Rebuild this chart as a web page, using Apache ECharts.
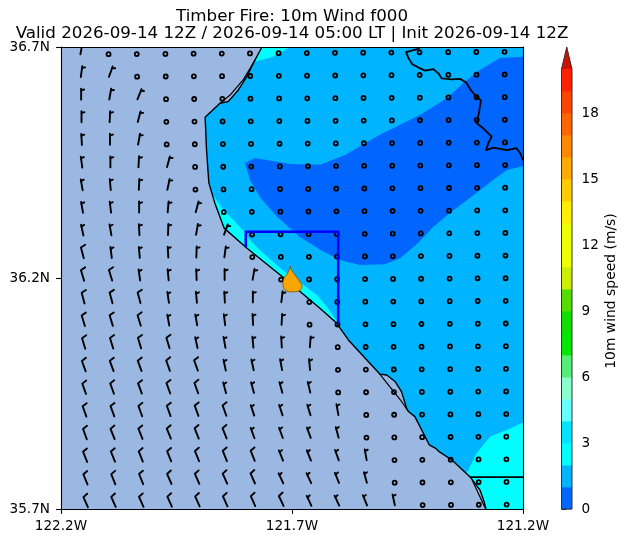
<!DOCTYPE html>
<html><head><meta charset="utf-8">
<style>html,body{margin:0;padding:0;background:#fff}#c{width:628px;height:543px}</style>
<script src="https://cdn.jsdelivr.net/npm/echarts@6/dist/echarts.min.js"></script>
</head><body><div id="c"></div>
<script>
const titleText = "Timber Fire: 10m Wind f000\nValid 2026-09-14 12Z / 2026-09-14 05:00 LT | Init 2026-09-14 12Z";
const lonTicks = [-122.2, -121.7, -121.2];
const latTicks = [35.7, 36.2, 36.7];
const cbarTicks = [0, 3, 6, 9, 12, 15, 18];
const cbarLabel = "10m wind speed (m/s)";
const levelColors = ['#0066ff','#00b4ff','#00ffff','#00e4ff','#66ffff','#88ffcc','#55ee77','#00e800','#10dd00','#55dd00','#ccee00','#eeff00','#eeff00','#ffee00','#ffcc00','#ffaa00','#ff8800','#ff6600','#ff4400','#ff2200'];
const overColor = '#cc1100';
const domain = [[-122.2,35.7],[-121.2,35.7],[-121.2,36.7],[-122.2,36.7]];
const calmLow = [[-121.802,36.449],[-121.780,36.460],[-121.704,36.447],[-121.639,36.445],[-121.585,36.466],[-121.548,36.488],[-121.510,36.510],[-121.423,36.553],[-121.365,36.589],[-121.326,36.625],[-121.293,36.650],[-121.250,36.676],[-121.2,36.679],[-121.2,36.442],[-121.235,36.434],[-121.265,36.412],[-121.315,36.373],[-121.358,36.341],[-121.397,36.308],[-121.427,36.276],[-121.466,36.243],[-121.499,36.230],[-121.553,36.228],[-121.596,36.239],[-121.639,36.261],[-121.683,36.289],[-121.733,36.333],[-121.769,36.375],[-121.791,36.412]];
const cyanTop = [[-121.765,36.7],[-121.704,36.7],[-121.741,36.679],[-121.780,36.668],[-121.813,36.650]];
const cyanCoast = [[-121.871,36.380],[-121.852,36.352],[-121.823,36.321],[-121.800,36.297],[-121.791,36.282],[-121.763,36.254],[-121.720,36.217],[-121.683,36.191],[-121.646,36.163],[-121.624,36.137],[-121.600,36.103],[-121.578,36.064],[-121.683,36.087],[-121.899,36.304]];
const cyanSouth = [[-121.322,35.778],[-121.300,35.821],[-121.271,35.857],[-121.235,35.871],[-121.2,35.887],[-121.2,35.7],[-121.33,35.7]];
const ocean = [[-121.765,36.7],[-121.780,36.672],[-121.798,36.636],[-121.816,36.607],[-121.838,36.582],[-121.856,36.578],[-121.888,36.548],[-121.885,36.477],[-121.880,36.406],[-121.867,36.362],[-121.847,36.308],[-121.798,36.265],[-121.720,36.202],[-121.639,36.134],[-121.603,36.102],[-121.578,36.066],[-121.510,35.992],[-121.495,35.990],[-121.477,35.976],[-121.463,35.954],[-121.452,35.918],[-121.448,35.911],[-121.434,35.900],[-121.403,35.839],[-121.390,35.832],[-121.380,35.823],[-121.354,35.806],[-121.315,35.770],[-121.293,35.741],[-121.284,35.715],[-121.280,35.7],[-122.2,35.7],[-122.2,36.7]];
const coastMain = ocean.slice(0, 31);
const coastBayNorth = [[-121.780,36.672],[-121.805,36.630],[-121.834,36.596],[-121.856,36.578]];
const coastBayMid = [[-121.510,35.992],[-121.466,35.937],[-121.448,35.911]];
const coastBaySouth = [[-121.310,35.763],[-121.282,35.702]];
const borderSouth = [[-121.315,35.769],[-121.2,35.769]];
const borderNorth = [[-121.423,36.697],[-121.453,36.689],[-121.448,36.676],[-121.440,36.663],[-121.427,36.656],[-121.412,36.649],[-121.394,36.652],[-121.383,36.643],[-121.376,36.632],[-121.354,36.630],[-121.336,36.631],[-121.323,36.623],[-121.313,36.607],[-121.300,36.591],[-121.291,36.585],[-121.295,36.560],[-121.300,36.535],[-121.286,36.524],[-121.268,36.506],[-121.275,36.492],[-121.280,36.477],[-121.264,36.482],[-121.235,36.477],[-121.214,36.481],[-121.206,36.470],[-121.2,36.455]];
const domainBox = [[-121.8,36.267],[-121.8,36.3],[-121.6,36.3],[-121.6,36.1]];
const fireLocation = [[-121.699,36.198]];
const gridLon = [-122.158,-122.097,-122.036,-121.974,-121.913,-121.852,-121.791,-121.729,-121.668,-121.607,-121.546,-121.485,-121.424,-121.362,-121.301,-121.240];
const gridLat = [36.684,36.635,36.586,36.537,36.488,36.439,36.390,36.341,36.292,36.243,36.194,36.145,36.096,36.047,35.998,35.949,35.900,35.851,35.802,35.753,35.704];
const rowLonShift = [0,.0008,.0016,.0024,.0032,.0041,.0049,.0057,.0065,.0073,.0081,.0089,.0097,.0105,.0114,.0122,.0130,.0138,.0146,.0154,.0162];
const colShiftScale = [1,.95,.9,.86,.81,.76,.71,.66,.62,.57,.52,.47,.42,.38,.33,.28];
const colLatShift = [0,.0004,.0007,.0011,.0015,.0018,.0022,.0026,.0029,.0033,.0037,.0040,.0044,.0048,.0052,.0055];
const barbDir = [[10],[8,20],[0,10,22],[0,3,15],[-3,0,10],[-8,0,3,15],[-10,-5,3,12],[-10,-7,0,5,15],[-12,-10,-3,2,10,20],[-15,-7,-5,-3,2,8],[-17,-17,-8,-5,-2,0,10],[-15,-15,-15,-8,-5,-3,0,7],[-17,-17,-17,-10,-10,-7,-3,3],[-17,-17,-17,-17,-12,-10,-5,-3,5],[-20,-20,-20,-20,-20,-12,-12,-10,-5],[-20,-20,-20,-20,-20,-15,-15,-15,-13],[-20,-20,-20,-20,-20,-20,-18,-18,-17,-10],[-20,-22,-22,-22,-22,-22,-20,-20,-20,-15],[-22,-22,-22,-22,-22,-22,-22,-22,-22,-20,-10],[-22,-22,-22,-24,-24,-24,-24,-25,-25,-22,-15],[-24,-24,-24,-24,-24,-24,-24,-25,-25,-25,-22,-12]];
const fullBarbCols = [0,0,0,0,0,0,0,0,0,1,2,3,3,4,5,5,6,6,7,7,8];

const FONT = 'DejaVu Sans';
const barbData = [];
gridLat.forEach((lat, r) => gridLon.forEach((lon, c) => {
  const d = barbDir[r][c];
  barbData.push([lon + rowLonShift[r] * colShiftScale[c], lat + colLatShift[c], d === undefined ? 0 : d, d === undefined ? 0 : (c < fullBarbCols[r] ? 2 : 1)]);
}));

function polySeries(pts, color, z) {
  return { type:'custom', coordinateSystem:'cartesian2d', xAxisIndex:0, yAxisIndex:0, silent:true, z, clip:true,
    data:[0], renderItem:(p, api) => ({ type:'polygon', shape:{points:pts.map(q => api.coord(q))}, style:{fill:color, stroke:null} }) };
}
function lineSeries(pts, color, width, z) {
  return { type:'line', xAxisIndex:0, yAxisIndex:0, data:pts, showSymbol:false, silent:true, z, clip:true,
    lineStyle:{color, width, join:'round'}, animation:false };
}
const BL = 11;
function barbItem(p, api) {
  const [x, y] = api.coord([api.value(0), api.value(1)]);
  const kind = api.value(3);
  if (kind === 0) return { type:'circle', shape:{cx:x, cy:y, r:2}, style:{fill:null, stroke:'#000', lineWidth:1.8} };
  const t = api.value(2) * Math.PI / 180, f = t + 72 * Math.PI / 180;
  const tip = [x + Math.sin(t) * BL, y - Math.cos(t) * BL];
  const style = {fill:null, stroke:'#000', lineWidth:1.9, lineCap:'round', lineJoin:'round'};
  if (kind === 2) {
    return { type:'polyline', shape:{points:[[x, y], tip, [tip[0] + Math.sin(f) * BL * .46, tip[1] - Math.cos(f) * BL * .46]]}, style };
  }
  const q = [x + Math.sin(t) * BL * .84, y - Math.cos(t) * BL * .84];
  return { type:'group', children:[
    { type:'polyline', shape:{points:[[x, y], tip]}, style },
    { type:'polyline', shape:{points:[q, [q[0] + Math.sin(f) * BL * .28, q[1] - Math.cos(f) * BL * .28]]}, style }
  ]};
}
const firePath = 'path://M22 0 C24 12 31 18 40 30 C49 42 60 52 58 62 C56 72 44 75 28 75 C12 75 0 70 0 52 C0 38 5 32 12 24 C18 17 20 8 22 0 Z';

const option = {
  animation:false, backgroundColor:'#fff',
  textStyle:{fontFamily:FONT},
  title:{ text:titleText, left:287, top:3, textAlign:'center',
    textStyle:{fontFamily:FONT, fontWeight:'normal', fontSize:16.7, lineHeight:17, color:'#000'} },
  grid:[
    { left:61, top:47, width:462, height:462, show:false },
    { left:561.5, top:69, width:10.5, height:440, show:false }
  ],
  xAxis:[
    { type:'value', gridIndex:0, min:-122.2, max:-121.2, splitLine:{show:false}, z:50,
      axisLine:{show:true, onZero:false, lineStyle:{color:'#000', width:1.1}},
      axisTick:{show:true, length:4.9, lineStyle:{color:'#000', width:1.1}, customValues:lonTicks},
      axisLabel:{color:'#000', fontSize:13.6, fontFamily:FONT, margin:10, customValues:lonTicks, formatter:v => Math.abs(v).toFixed(1) + 'W', hideOverlap:false} },
    { type:'value', gridIndex:0, position:'top', min:-122.2, max:-121.2, splitLine:{show:false}, z:50,
      axisLine:{show:true, onZero:false, lineStyle:{color:'#000', width:1.1}}, axisTick:{show:false}, axisLabel:{show:false} },
    { type:'value', gridIndex:1, min:0, max:1, show:false }
  ],
  yAxis:[
    { type:'value', gridIndex:0, min:35.7, max:36.7, splitLine:{show:false}, z:50,
      axisLine:{show:true, onZero:false, lineStyle:{color:'#000', width:1.1}},
      axisTick:{show:true, length:4.9, lineStyle:{color:'#000', width:1.1}, customValues:latTicks},
      axisLabel:{color:'#000', fontSize:13.6, fontFamily:FONT, margin:11, padding:[6,0,0,0], customValues:latTicks, formatter:v => v.toFixed(1) + 'N', hideOverlap:false} },
    { type:'value', gridIndex:0, position:'right', min:35.7, max:36.7, splitLine:{show:false}, z:50,
      axisLine:{show:true, onZero:false, lineStyle:{color:'#000', width:1.1}}, axisTick:{show:false}, axisLabel:{show:false} },
    { type:'value', gridIndex:1, position:'right', min:0, max:20, splitLine:{show:false},
      axisLine:{show:false},
      axisTick:{show:true, length:4.9, lineStyle:{color:'#000', width:1.1}, customValues:cbarTicks},
      axisLabel:{color:'#000', fontSize:13.6, fontFamily:FONT, margin:9.5, padding:[6,0,0,0], customValues:cbarTicks, hideOverlap:false},
      name:cbarLabel, nameLocation:'middle', nameRotate:90, nameGap:32,
      nameTextStyle:{color:'#000', fontSize:13.9, fontFamily:FONT, padding:[0,4,0,0]} }
  ],
  series:[
    polySeries(domain, levelColors[1], 1),
    polySeries(calmLow, levelColors[0], 2),
    polySeries(cyanTop, levelColors[2], 2),
    polySeries(cyanCoast, levelColors[2], 2),
    polySeries(cyanSouth, levelColors[2], 2),
    polySeries(ocean, '#9bb8e3', 3),
    lineSeries(coastMain, '#000', 1.4, 4),
    lineSeries(coastBayNorth, '#000', 1.2, 4),
    lineSeries(coastBayMid, '#000', 1.2, 4),
    lineSeries(coastBaySouth, '#000', 1.2, 4),
    lineSeries(borderSouth, '#000', 1.8, 4),
    lineSeries(borderNorth, '#000', 1.8, 4),
    { type:'custom', xAxisIndex:0, yAxisIndex:0, data:barbData, renderItem:barbItem, silent:true, z:5, clip:true },
    lineSeries(domainBox, '#0000ff', 2.6, 6),
    { type:'scatter', xAxisIndex:0, yAxisIndex:0, data:fireLocation, symbol:firePath, symbolSize:[19,26], silent:true, z:7,
      itemStyle:{color:'#f9a602', borderColor:'#7a5200', borderWidth:.8, opacity:1} },
    { type:'custom', xAxisIndex:2, yAxisIndex:2, silent:true, clip:false, z:2, data:levelColors.map((c, i) => i),
      renderItem:(p, api) => {
        const lo = api.value(0), a = api.coord([0, lo]), b = api.coord([1, lo + 1]);
        return { type:'rect', shape:{x:a[0], y:b[1], width:b[0]-a[0], height:a[1]-b[1]+.4}, style:{fill:levelColors[lo], stroke:null} };
      } },
    { type:'custom', xAxisIndex:2, yAxisIndex:2, silent:true, clip:false, z:2, data:[0],
      renderItem:(p, api) => ({ type:'polygon', shape:{points:[[0,20],[.5,21],[1,20]].map(q => api.coord(q))}, style:{fill:overColor, stroke:null} }) },
    { type:'custom', xAxisIndex:2, yAxisIndex:2, silent:true, clip:false, z:3, data:[0],
      renderItem:(p, api) => ({ type:'polygon', shape:{points:[[0,0],[0,20],[.5,21],[1,20],[1,0]].map(q => api.coord(q))}, style:{fill:null, stroke:'#333', lineWidth:1} }) }
  ]
};
echarts.init(document.getElementById('c'), null, {renderer:'canvas'}).setOption(option);
</script></body></html>
